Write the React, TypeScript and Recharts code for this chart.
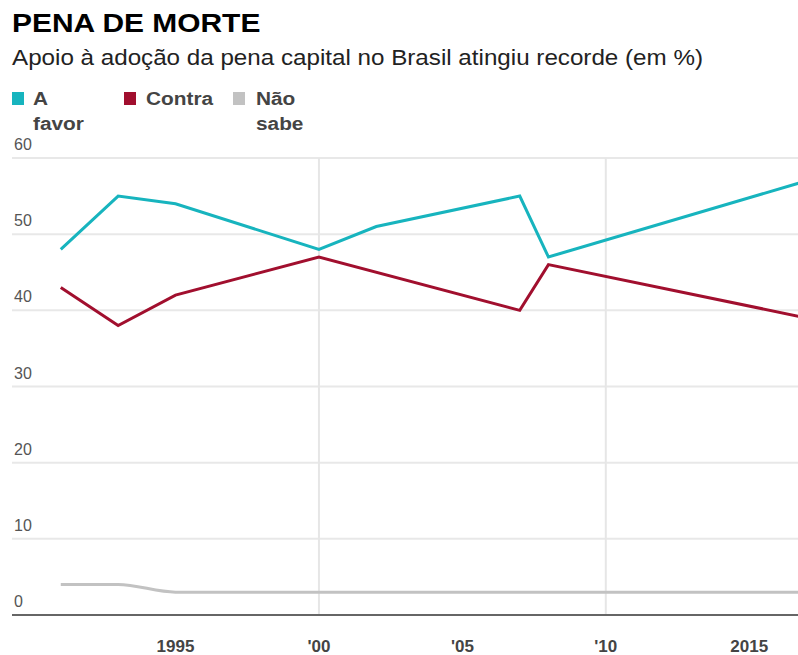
import { LineChart, Line, XAxis, YAxis, CartesianGrid, ReferenceLine } from 'recharts';

const years = [1991, 1993, 1995, 2000, 2002, 2007, 2008, 2017];
const aFavor = [48, 55, 54, 48, 51, 55, 47, 57];
const contra = [43, 38, 42, 47, null, 40, 46, 39];
const naoSabe = [4, 4, 3, 3, null, 3, 3, 3];

const xTicks = [1995, 2000, 2005, 2010, 2015];
const xTickLabels = ['1995', "'00", "'05", "'10", '2015'];
const yTicks = [0, 10, 20, 30, 40, 50, 60];
const decadeLines = [2000, 2010];

const seriesKeys = ['aFavor', 'contra', 'naoSabe'];
const seriesColors = ['#17b4be', '#a10f2e', '#c2c2c2'];
const legendLines = [['A', 'favor'], ['Contra'], ['Não', 'sabe']];

const TITLE = 'PENA DE MORTE';
const SUBTITLE = 'Apoio à adoção da pena capital no Brasil atingiu recorde (em %)';

const data = years.map((year, i) => ({
  year,
  aFavor: aFavor[i],
  contra: contra[i],
  naoSabe: naoSabe[i],
}));

const FONT = '"Liberation Sans", Arial, sans-serif';

function YTick({ y, payload }: any) {
  return (
    <text x={14} y={y - 8} fontSize={16} fill="#555" fontFamily={FONT}>
      {payload.value}
    </text>
  );
}

function XTick({ x, y, payload }: any) {
  const idx = xTicks.indexOf(payload.value);
  return (
    <text
      x={x}
      y={y + 37}
      fontSize={17}
      fontWeight={700}
      fill="#444"
      textAnchor="middle"
      fontFamily={FONT}
    >
      {xTickLabels[idx]}
    </text>
  );
}

// legend slots: square x, text x
const legendPos = [
  [12, 33],
  [124, 146],
  [233, 256],
];

function Header() {
  return (
    <svg
      width={798}
      height={140}
      style={{ position: 'absolute', left: 0, top: 0, pointerEvents: 'none' }}
    >
      <text
        transform="translate(12,32) scale(1.13,1)"
        fontSize={26.5}
        fontWeight={700}
        fill="#000"
        fontFamily={FONT}
      >
        {TITLE}
      </text>
      <text
        transform="translate(12,65) scale(1.1,1)"
        fontSize={22}
        fill="#222"
        fontFamily={FONT}
      >
        {SUBTITLE}
      </text>
      {seriesKeys.map((key, i) => (
        <g key={key}>
          <rect x={legendPos[i][0]} y={92} width={12} height={13} fill={seriesColors[i]} />
          {legendLines[i].map((ln, j) => (
            <text
              key={ln}
              transform={`translate(${legendPos[i][1]},${105 + j * 25}) scale(1.12,1)`}
              fontSize={18.6}
              fontWeight={700}
              fill="#444"
              fontFamily={FONT}
            >
              {ln}
            </text>
          ))}
        </g>
      ))}
    </svg>
  );
}

export default function App() {
  return (
    <div style={{ position: 'relative', width: 798, height: 655, fontFamily: FONT }}>
      <style>{'body { margin: 0; }'}</style>
      <LineChart
        width={798}
        height={655}
        data={data}
        margin={{ top: 158, right: 0, left: 0, bottom: 0 }}
      >
        <CartesianGrid vertical={false} stroke="#e8e8e8" strokeWidth={2} />
        {decadeLines.map((yr) => (
          <ReferenceLine key={yr} x={yr} stroke="#e6e6e6" strokeWidth={2} />
        ))}
        <XAxis
          dataKey="year"
          type="number"
          domain={[1989.3, 2016.7]}
          allowDataOverflow
          ticks={xTicks}
          tick={<XTick />}
          tickLine={false}
          tickSize={0}
          tickMargin={0}
          height={40}
          axisLine={{ stroke: '#666', strokeWidth: 2 }}
        />
        <YAxis
          domain={[0, 60]}
          ticks={yTicks}
          width={12}
          axisLine={false}
          tickLine={false}
          tick={<YTick />}
        />
        <Line
          type="monotone"
          dataKey="naoSabe"
          stroke={seriesColors[2]}
          strokeWidth={3}
          dot={false}
          connectNulls
          isAnimationActive={false}
        />
        <Line
          type="linear"
          dataKey="contra"
          stroke={seriesColors[1]}
          strokeWidth={3}
          dot={false}
          connectNulls
          isAnimationActive={false}
        />
        <Line
          type="linear"
          dataKey="aFavor"
          stroke={seriesColors[0]}
          strokeWidth={3}
          dot={false}
          isAnimationActive={false}
        />
      </LineChart>
      <Header />
    </div>
  );
}
